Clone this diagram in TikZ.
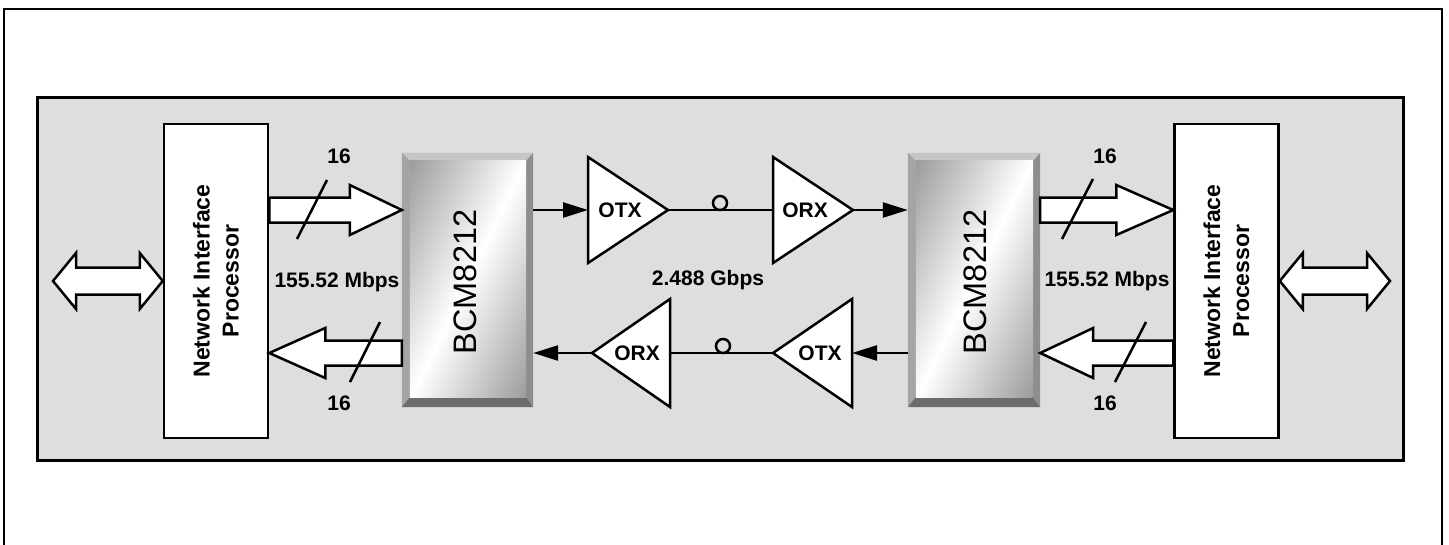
\documentclass[tikz,border=0pt]{standalone}
\usepackage{fontspec}
\setmainfont{Liberation Sans}
\usetikzlibrary{arrows.meta,calc}
\definecolor{panelgray}{HTML}{DEDEDE}
\definecolor{bevtop}{HTML}{C6C6C6}
\definecolor{bevleft}{HTML}{A4A4A4}
\definecolor{bevright}{HTML}{8E8E8E}
\definecolor{bevbot}{HTML}{6C6C6C}
\definecolor{facedark}{HTML}{9C9C9C}
\newcommand{\bevelbox}[1]{%
  \fill[bevtop] (#1.north west) -- (#1.north east) -- ($(#1.north east)+(-7,8)$) -- ($(#1.north west)+(8,8)$) -- cycle;
  \fill[bevleft] (#1.north west) -- ($(#1.north west)+(8,8)$) -- ($(#1.south west)+(8,-10)$) -- (#1.south west) -- cycle;
  \fill[bevright] (#1.north east) -- (#1.south east) -- ($(#1.south east)+(-7,-10)$) -- ($(#1.north east)+(-7,8)$) -- cycle;
  \fill[bevbot] (#1.south west) -- (#1.south east) -- ($(#1.south east)+(-7,-10)$) -- ($(#1.south west)+(8,-10)$) -- cycle;
  \begin{scope}
    \clip ($(#1.north west)+(8,8)$) rectangle ($(#1.south east)+(-7,-10)$);
    \begin{scope}[transform canvas={shift={($(#1.center)+(0.5,-1)$)}, rotate=-26}]
      \shade[left color=facedark, right color=facedark, middle color=white] (-104,-200) rectangle (104,200);
    \end{scope}
  \end{scope}}
% fat arrow: #1 start, #2 tip, #3 signed offset from tip to head base
\newcommand{\fatarrow}[3]{%
  \draw[fatline] ($(#1)+(0,12.5)$) -- ($(#2)+(#3,12.5)$) -- ($(#2)+(#3,25)$) -- (#2)
    -- ($(#2)+(#3,-25)$) -- ($(#2)+(#3,-12.5)$) -- ($(#1)+(0,-12.5)$) -- cycle;}
% double fat arrow: #1 left tip, #2 right tip
\newcommand{\dblarrow}[2]{%
  \draw[fatline] (#1) -- ($(#1)+(23,-28)$) -- ($(#1)+(23,-13.5)$) -- ($(#2)+(-23,-13.5)$)
    -- ($(#2)+(-23,-28)$) -- (#2) -- ($(#2)+(-23,28)$) -- ($(#2)+(-23,13.5)$)
    -- ($(#1)+(23,13.5)$) -- ($(#1)+(23,28)$) -- cycle;}
\begin{document}
\begin{tikzpicture}[x=1pt,y=-1pt,
  lw/.style={line width=2.5pt},
  fatline/.style={line width=2.5pt, fill=white, line join=miter},
  nipbox/.style={draw, line width=2.5pt, fill=white, minimum width=104pt, minimum height=314pt, inner sep=0pt},
  bcmbox/.style={minimum height=254pt, inner sep=0pt},
  lbl/.style={font=\fontsize{21}{25}\selectfont\bfseries, inner sep=0pt},
  niptext/.style={font=\fontsize{23}{29}\selectfont\bfseries, align=center, rotate=90, inner sep=0pt},
  bcmtext/.style={font=\fontsize{32.5}{36}\selectfont, rotate=90, inner sep=0pt},
  tri/.style={line width=2.5pt, fill=white, line join=miter},
  sig/.style={line width=2.5pt, -{Triangle[length=25pt,width=15pt]}},
  fiber/.style={line width=2.5pt}
]
\useasboundingbox (0,0) rectangle (1449,544);
% outer frame (open at the bottom)
\draw[line width=2.5pt] (4,560) -- (4,9) -- (1442,9) -- (1442,560);
% grey panel
\node[draw, line width=3pt, fill=panelgray, minimum width=1366pt, minimum height=363pt, inner sep=0pt] (panel) at (720,278.5) {};

% network interface processors
\node[nipbox] (nip1) at (216,281) {};
\node[niptext] (nip1t) at (nip1.center) {Network Interface\\Processor};
\node[nipbox] (nip2) at (1226.5,281) {};
\node[niptext] (nip2t) at (nip2.center) {Network Interface\\Processor};

% BCM8212 blocks
\node[bcmbox, minimum width=131pt] (bcm1) at (467.5,280) {};
\bevelbox{bcm1}
\node[bcmtext] (bcm1t) at (465,282) {BCM8212};
\node[bcmbox, minimum width=132pt] (bcm2) at (974,280) {};
\bevelbox{bcm2}
\node[bcmtext] (bcm2t) at (975,282) {BCM8212};

% optical triangles
\coordinate (t1b) at (588,210); \coordinate (t1a) at (668,210);
\coordinate (t2b) at (773,210); \coordinate (t2a) at (853,210);
\coordinate (t3a) at (592,353); \coordinate (t3b) at (670,353);
\coordinate (t4a) at (773,353); \coordinate (t4b) at (852,353);
\draw[tri] ($(t1b)+(0,-53)$) -- (t1a) -- ($(t1b)+(0,53)$) -- cycle;
\draw[tri] ($(t2b)+(0,-53)$) -- (t2a) -- ($(t2b)+(0,53)$) -- cycle;
\draw[tri] ($(t3b)+(0,-54)$) -- (t3a) -- ($(t3b)+(0,54)$) -- cycle;
\draw[tri] ($(t4b)+(0,-54)$) -- (t4a) -- ($(t4b)+(0,54)$) -- cycle;
\node[lbl] (otx1) at (620,210) {OTX};
\node[lbl] (orx1) at (805,210) {ORX};
\node[lbl] (orx2) at (637,353) {ORX};
\node[lbl] (otx2) at (820,353) {OTX};

% fibre links
\draw[fiber] (t1a) -- (t2b);
\draw[fiber] (t4a) -- (t3b);
\node[draw, circle, line width=2.5pt, minimum size=14pt, inner sep=0pt] (c1) at (720,203) {};
\node[draw, circle, line width=2.5pt, minimum size=14pt, inner sep=0pt] (c2) at (723,346) {};

% thin signal arrows
\draw[sig] (bcm1.east |- t1b) -- (t1b);
\draw[sig] (t2a) -- (bcm2.west |- t2a);
\draw[sig] (bcm2.west |- t4b) -- (t4b);
\draw[sig] (t3a) -- (bcm1.east |- t3a);

% wide bus arrows
\fatarrow{nip1.east |- t1b}{bcm1.west |- t1b}{-52}
\fatarrow{bcm1.west |- t3a}{nip1.east |- t3a}{56}
\fatarrow{bcm2.east |- t2a}{nip2.west |- t2a}{-57}
\fatarrow{nip2.west |- t4a}{bcm2.east |- t4a}{53}

% bus width marks
\draw[lw] (297,239) -- (327,180);
\draw[lw] (350,382) -- (380,322);
\draw[lw] (1062,239) -- (1093,179);
\draw[lw] (1115,382) -- (1146,322);

% external double arrows
\coordinate (ext1) at (53,281);
\coordinate (ext2) at (1390,281);
\dblarrow{ext1}{nip1.west}
\dblarrow{nip2.east}{ext2}

% labels
\node[lbl] (w1) at (339,156) {16};
\node[lbl] (w2) at (339,403) {16};
\node[lbl] (w3) at (1105,156) {16};
\node[lbl] (w4) at (1105,403) {16};
\node[lbl] (r1) at (337,282) {155.52 Mbps};
\node[lbl] (r2) at (1107,281) {155.52 Mbps};
\node[lbl] (r3) at (708,280) {2.488 Gbps};
\end{tikzpicture}
\end{document}
